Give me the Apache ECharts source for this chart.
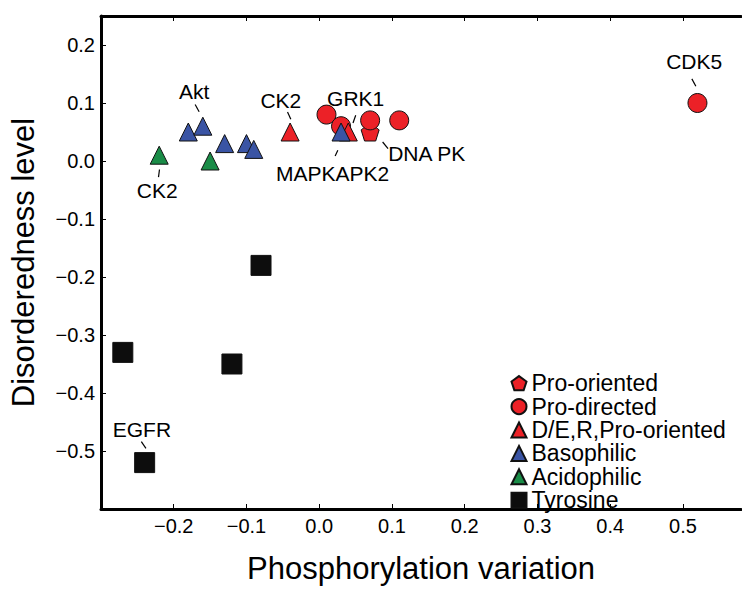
<!DOCTYPE html>
<html><head><meta charset="utf-8">
<script src="https://cdn.jsdelivr.net/npm/echarts@6/dist/echarts.min.js"></script>
<style>html,body{margin:0;padding:0;background:#fff}#c{width:742px;height:589px}</style>
</head><body><div id="c"></div>
<script>
// ---- data ----
const seriesNames = ['Pro-oriented', 'Pro-directed', 'D/E,R,Pro-oriented', 'Basophilic', 'Acidophilic', 'Tyrosine'];
const proOrientedX = [0.07];
const proOrientedY = [0.05];
const proDirectedX = [0.01, 0.03, 0.07, 0.11, 0.52];
const proDirectedY = [0.08, 0.06, 0.07, 0.07, 0.10];
const derX = [-0.04, 0.04];
const derY = [0.05, 0.05];
const basoX = [-0.18, -0.16, -0.13, -0.10, -0.09, 0.03];
const basoY = [0.05, 0.06, 0.03, 0.03, 0.02, 0.05];
const acidoX = [-0.22, -0.15];
const acidoY = [0.01, 0.00];
const tyrX = [-0.27, -0.24, -0.12, -0.08];
const tyrY = [-0.33, -0.52, -0.35, -0.18];
const xTickLabels = [-0.2, -0.1, 0.0, 0.1, 0.2, 0.3, 0.4, 0.5];
const yTickLabels = [-0.5, -0.4, -0.3, -0.2, -0.1, 0.0, 0.1, 0.2];
// annotations: text, series index, point index
const annoText = ['Akt', 'CK2', 'CK2', 'MAPKAPK2', 'GRK1', 'DNA PK', 'CDK5', 'EGFR'];
const annoSeries = [3, 2, 4, 3, 2, 0, 1, 5];
const annoPoint = [1, 0, 0, 5, 1, 0, 4, 1];

// ---- layout / style (pixel offsets from the point) ----
const annoLayout = [
  {t: [-8.7, -34.4], l: [-7.7, -21.7, -3.7, -14.4], align: 'center'},
  {t: [-9.3, -31.7], l: [-2.6, -20, 0.7, -12.7], align: 'center'},
  {t: [-2, 35], l: [0.3, 14.3, -0.7, 22], align: 'center'},
  {t: [-8.5, 41.6], l: [-3.2, 18.3, -5.9, 24], align: 'center'},
  {t: [7.4, -33.4], l: [7.4, -16.7, 4.7, -9], align: 'center'},
  {t: [18, 21.5], l: [12.5, 10, 17.9, 16.6], align: 'left'},
  {t: [-3.3, -41.8], l: [-5.6, -24.1, -1.6, -16.8], align: 'center'},
  {t: [-2.7, -33.2], l: [-3.3, -20.9, 1.3, -14.2], align: 'center'}
];
const RED = '#ec2127', BLUE = '#3a54a4', GREEN = '#1a8c47', BLACK = '#0d0d0d';
const FONT = '"Liberation Sans", Arial, sans-serif';
const pentagon = 'path://M0,-1 L0.951,-0.309 L0.588,0.809 L-0.588,0.809 L-0.951,-0.309 Z';

const xs = [proOrientedX, proDirectedX, derX, basoX, acidoX, tyrX];
const ys = [proOrientedY, proDirectedY, derY, basoY, acidoY, tyrY];
const symbols = [pentagon, 'circle', 'triangle', 'triangle', 'triangle', 'rect'];
const sizes = [18, 19, 18, 18, 18, 20];
const colors = [RED, RED, RED, BLUE, GREEN, BLACK];

function fmt(v) {
  const r = Math.round(v * 10) / 10;
  return (r < 0 ? '\u2212' : '') + Math.abs(r).toFixed(1);
}

const series = seriesNames.map((name, i) => ({
  name, type: 'scatter',
  data: xs[i].map((x, j) => [x, ys[i][j]]),
  symbol: symbols[i], symbolSize: sizes[i],
  itemStyle: {color: colors[i], borderColor: '#111', borderWidth: 1, opacity: 1},
  emphasis: {disabled: true},
  z: 2 + i
}));

const axisCommon = {
  axisLine: {show: true, onZero: false, lineStyle: {color: '#000', width: 3}},
  axisTick: {show: true, inside: true, length: 5, lineStyle: {color: '#000', width: 1}},
  splitLine: {show: false}
};

const chart = echarts.init(document.getElementById('c'), null, {renderer: 'svg'});
const option = {
  animation: false,
  backgroundColor: '#fff',
  grid: {left: 91.7, top: 16, right: 0.9, bottom: 62, containLabel: false},
  xAxis: [
    Object.assign({}, axisCommon, {
      type: 'value', min: -0.3, max: 0.58, interval: 0.1, position: 'bottom',
      axisTick: Object.assign({}, axisCommon.axisTick, {customValues: xTickLabels}),
      axisLabel: {customValues: xTickLabels, formatter: fmt, color: '#000', fontSize: 20, fontFamily: FONT, margin: 7},
      name: 'Phosphorylation variation', nameLocation: 'middle', nameGap: 44,
      nameTextStyle: {fontSize: 31, fontFamily: FONT, color: '#000'}
    }),
    Object.assign({}, axisCommon, {
      type: 'value', min: -0.3, max: 0.58, interval: 0.1, position: 'top',
      axisTick: Object.assign({}, axisCommon.axisTick, {customValues: xTickLabels}),
      axisLabel: {show: false}
    })
  ],
  yAxis: [
    Object.assign({}, axisCommon, {
      type: 'value', min: -0.6, max: 0.25, interval: 0.1,
      axisTick: Object.assign({}, axisCommon.axisTick, {customValues: yTickLabels}),
      axisLabel: {customValues: yTickLabels, formatter: fmt, color: '#000', fontSize: 20, fontFamily: FONT, margin: 6},
      name: 'Disorderedness level', nameLocation: 'middle', nameGap: 62, nameRotate: 90,
      nameTextStyle: {fontSize: 31, fontFamily: FONT, color: '#000'}
    })
  ],
  legend: {
    orient: 'vertical', left: 505.5, top: 366.5,
    itemWidth: 15, itemHeight: 15, itemGap: 0,
    textStyle: {fontSize: 23, lineHeight: 23.4, fontFamily: FONT, color: '#000'},
    data: seriesNames.map(n => ({name: n})),
    selectedMode: false
  },
  series
};
chart.setOption(option);

// annotations placed via the chart's own scales
const graphics = [];
annoText.forEach((txt, k) => {
  const s = annoSeries[k], p = annoPoint[k];
  const px = chart.convertToPixel({xAxisIndex: 0, yAxisIndex: 0}, [xs[s][p], ys[s][p]]);
  const L = annoLayout[k];
  graphics.push({
    type: 'line', silent: true, z: 50,
    shape: {x1: px[0] + L.l[0], y1: px[1] + L.l[1], x2: px[0] + L.l[2], y2: px[1] + L.l[3]},
    style: {stroke: '#000', lineWidth: 1.2}
  });
  graphics.push({
    type: 'text', silent: true, z: 50,
    x: px[0] + L.t[0], y: px[1] + L.t[1],
    style: {text: txt, fontSize: 21, fontFamily: FONT, fill: '#000',
      align: L.align, verticalAlign: 'middle'}
  });
});
chart.setOption({graphic: graphics});
</script>
</body></html>
